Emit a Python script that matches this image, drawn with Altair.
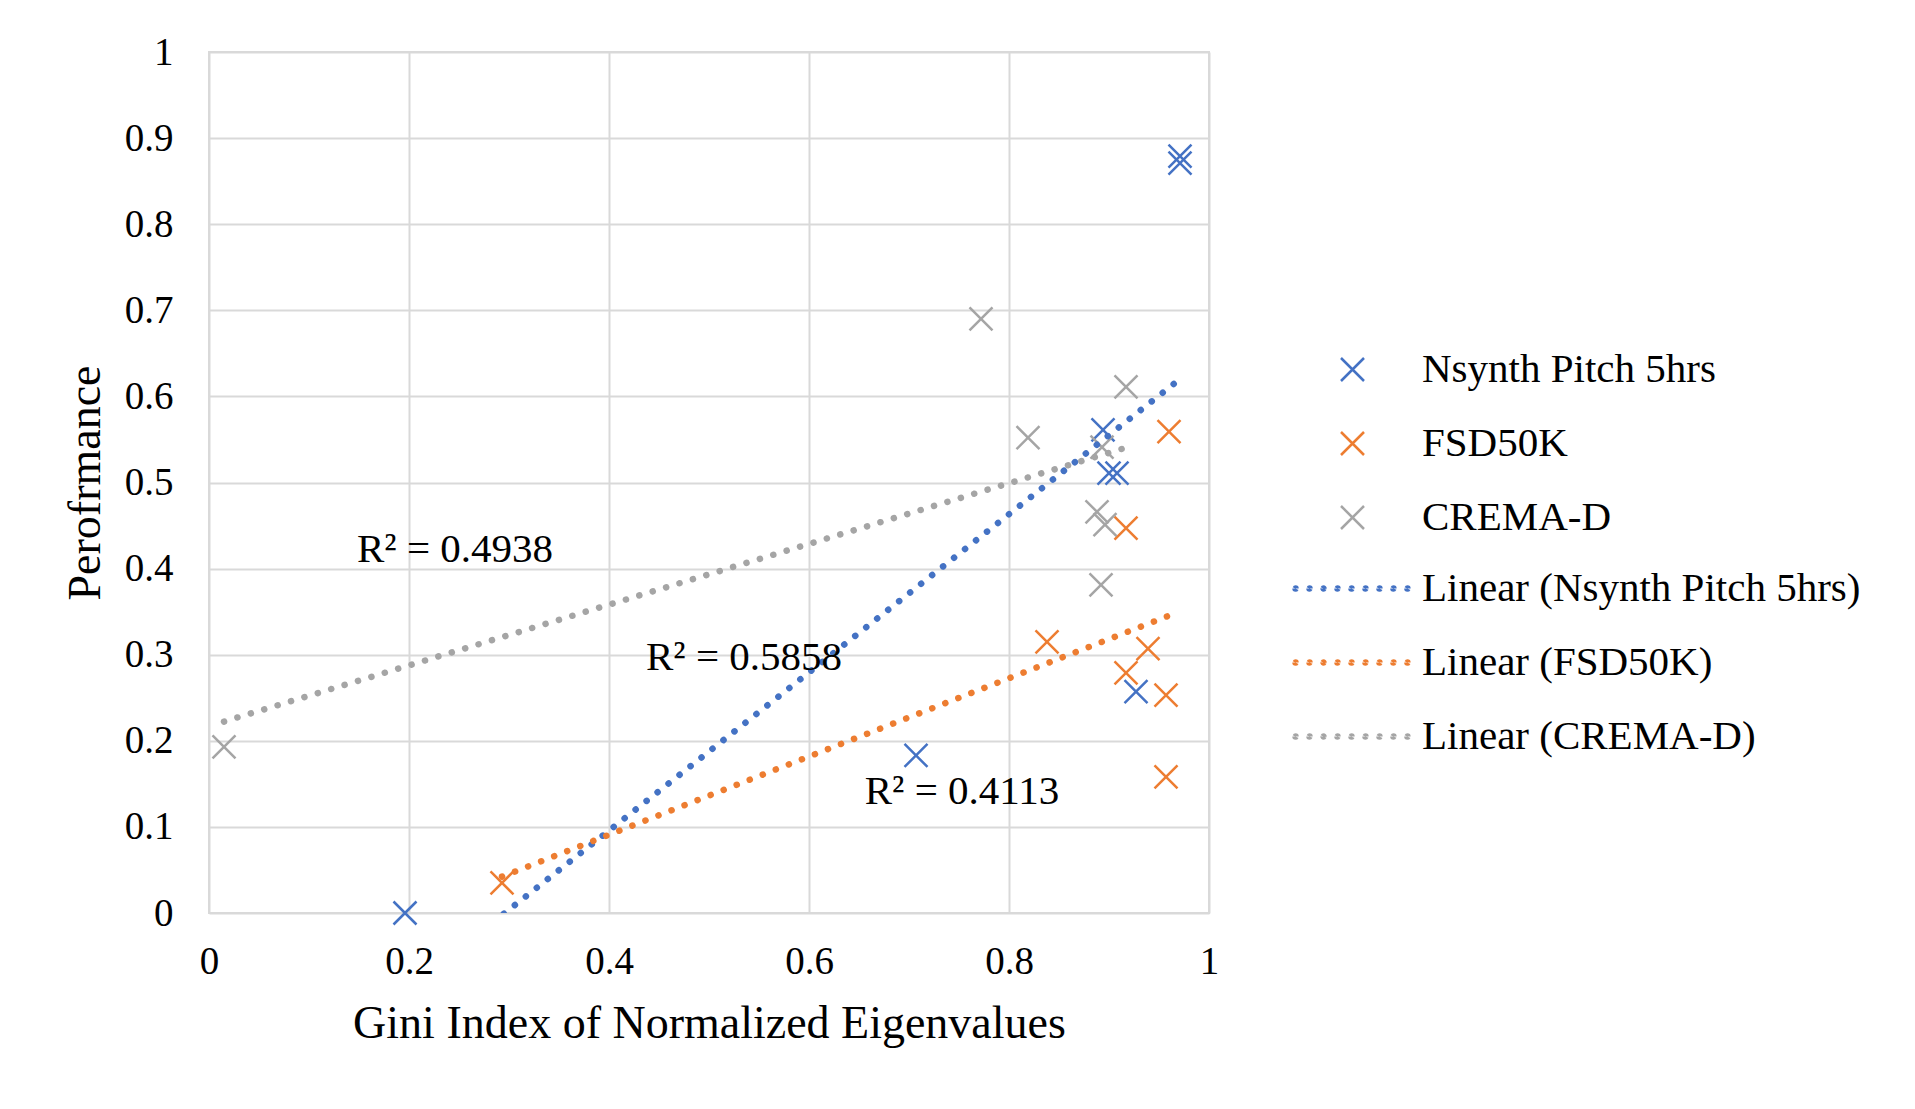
import altair as alt
import pandas as pd

# ---------------- data ----------------
series_names = ["Nsynth Pitch 5hrs", "FSD50K", "CREMA-D"]
trend_names = ["Linear (Nsynth Pitch 5hrs)", "Linear (FSD50K)", "Linear (CREMA-D)"]

nsynth_x = [0.196, 0.707, 0.894, 0.900, 0.908, 0.927, 0.971, 0.971]
nsynth_y = [0.000, 0.183, 0.561, 0.511, 0.511, 0.257, 0.879, 0.871]

fsd_x = [0.293, 0.838, 0.939, 0.917, 0.957, 0.957, 0.960, 0.917]
fsd_y = [0.035, 0.315, 0.307, 0.279, 0.253, 0.158, 0.559, 0.447]

crema_x = [0.015, 0.772, 0.819, 0.917, 0.893, 0.888, 0.896, 0.892]
crema_y = [0.193, 0.690, 0.552, 0.611, 0.541, 0.466, 0.451, 0.381]

r2_text = ["R\u00b2 = 0.4938", "R\u00b2 = 0.5858", "R\u00b2 = 0.4113"]
r2_x = [0.246, 0.535, 0.753]
r2_y = [0.422, 0.296, 0.141]

x_ticks = [0, 0.2, 0.4, 0.6, 0.8, 1]
y_ticks = [0, 0.1, 0.2, 0.3, 0.4, 0.5, 0.6, 0.7, 0.8, 0.9, 1]

colors = ["#4472C4", "#ED7D31", "#A5A5A5"]

# ---------------- tables ----------------
rows = []
for name, trend, xs, ys in zip(series_names, trend_names,
                               [nsynth_x, fsd_x, crema_x],
                               [nsynth_y, fsd_y, crema_y]):
    for xv, yv in zip(xs, ys):
        rows.append({"gini": xv, "perf": yv, "series": name, "trend": trend,
                     "dashkey": trend})
df = pd.DataFrame(rows)
labels_df = pd.DataFrame({"x": r2_x, "y": r2_y, "t": r2_text})

FONT = "Liberation Serif"
X_PATH = "M-1,-1L1,1M-1,1L1,-1"

# dotted legend symbol: tiny stroked circles -> round dots of stroke width
r = 0.0027
dot_pos = [-3.73 + i * 0.9325 for i in range(9)]
DOT_PATH = "".join(
    f"M{p - r:.5f},0a{r},{r} 0 1,0 {2 * r:.5f},0a{r},{r} 0 1,0 {-2 * r:.5f},0" for p in dot_pos
)

xscale = alt.Scale(domain=[0, 1], nice=False)
yscale = alt.Scale(domain=[0, 1], nice=False)

x_enc = alt.X("gini:Q", scale=xscale,
              axis=alt.Axis(title="Gini Index of Normalized Eigenvalues", values=x_ticks,
                            format="~g", labelPadding=29, labelFlush=False, titleY=124,
                            titleBaseline="alphabetic"))
y_enc = alt.Y("perf:Q", scale=yscale,
              axis=alt.Axis(title="Perofrmance", values=y_ticks, format="~g",
                            labelPadding=36, titleX=-110, titleBaseline="alphabetic"))

points = alt.Chart(df).mark_point(
    shape=X_PATH, filled=False, size=529, strokeWidth=2.5, opacity=1
).encode(
    x=x_enc,
    y=y_enc,
    color=alt.Color(
        "series:N",
        scale=alt.Scale(domain=series_names, range=colors),
        legend=alt.Legend(
            title=None, orient="none", legendX=1123, legendY=297,
            symbolType=X_PATH, symbolSize=529, symbolStrokeWidth=2.5,
            labelOffset=49, rowPadding=32, padding=0,
            labelFont=FONT, labelFontSize=41, labelColor="black", labelLimit=600,
        ),
    ),
)

trend = alt.Chart(df).transform_regression(
    "gini", "perf", groupby=["trend", "dashkey"]
).mark_line(
    clip=True, strokeCap="round", strokeWidth=6.5
).encode(
    x="gini:Q",
    y="perf:Q",
    stroke=alt.Stroke(
        "trend:N",
        scale=alt.Scale(domain=trend_names, range=colors),
        legend=alt.Legend(
            title=None, orient="none", legendX=1122, legendY=516,
            symbolType=DOT_PATH, symbolSize=900, symbolStrokeWidth=6.5,
            symbolOpacity=1,
            labelOffset=50, rowPadding=32, padding=0,
            labelFont=FONT, labelFontSize=41, labelColor="black", labelLimit=600,
        ),
    ),
    strokeDash=alt.StrokeDash(
        "dashkey:N",
        scale=alt.Scale(domain=trend_names, range=[[0.1, 13.9], [0.1, 13.9], [0.1, 13.9]]),
        legend=None,
    ),
)

text = alt.Chart(labels_df).mark_text(
    font=FONT, fontSize=41, color="black"
).encode(x="x:Q", y="y:Q", text="t:N")

chart = alt.layer(points, trend, text).properties(
    width=1000,
    height=861,
    background="white",
    autosize=alt.AutoSizeParams(type="none"),
    padding={"left": 201, "top": 44, "right": 690, "bottom": 170},
).configure_axis(
    grid=True, gridColor="#d9d9d9", gridWidth=2,
    domain=False, ticks=False,
    labelFont=FONT, labelFontSize=39, labelColor="black",
    titleFont=FONT, titleFontSize=46, titleFontWeight="normal", titleColor="black",
).configure_view(
    stroke="#d9d9d9", strokeWidth=2
)

chart.save("out.html", embed_options={"renderer": "svg", "actions": False})
